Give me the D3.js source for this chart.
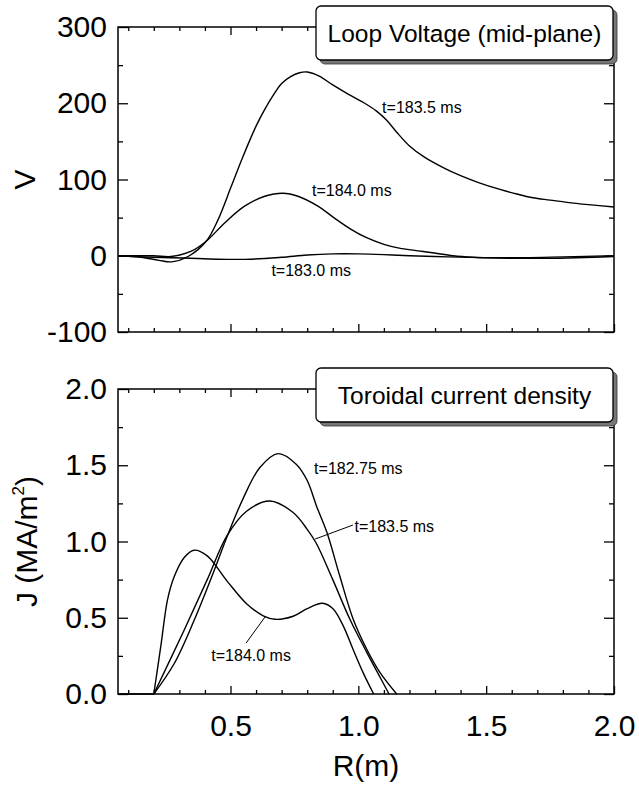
<!DOCTYPE html>
<html>
<head>
<meta charset="utf-8">
<script src="https://cdn.jsdelivr.net/npm/d3@7"></script>
<style>
  body { margin: 0; background: #fff; }
  svg text { font-family: "Liberation Sans", Arial, Helvetica, sans-serif; fill: #000; }
</style>
</head>
<body>
<svg id="chart" width="639" height="787"></svg>
<script>
// ---- data ----
const rMajor = [0.5, 1.0, 1.5, 2.0];
const rMinor = [0.1, 0.2, 0.3, 0.4, 0.6, 0.7, 0.8, 0.9, 1.1, 1.2, 1.3, 1.4, 1.6, 1.7, 1.8, 1.9];

const vMajor = [-100, 0, 100, 200, 300];
const vMinor = [-50, 50, 150, 250];
const jMajor = [0, 0.5, 1.0, 1.5, 2.0];
const jMinor = [0.25, 0.75, 1.25, 1.75];

// loop voltage, [R (m), V]
const v1835 = [[0.06,0],[0.15,-2],[0.22,-6],[0.27,-8],[0.334,-1],[0.405,19],[0.451,47],[0.503,91],[0.545,127],
  [0.60,170],[0.634,192],[0.67,212],[0.70,226],[0.735,235],[0.77,240],[0.80,241],[0.845,236],[0.90,224],
  [0.96,212],[1.02,201],[1.07,190],[1.11,178],[1.15,162],[1.20,144],[1.26,129],[1.33,116],[1.40,105],
  [1.47,96],[1.554,87],[1.62,81],[1.683,76],[1.75,73],[1.816,70],[1.9,67],[2.0,64]];
const v1840 = [[0.06,0],[0.2,0],[0.268,-1],[0.347,6],[0.405,19],[0.477,43],[0.555,65],[0.634,78],[0.705,82],
  [0.764,78],[0.842,65],[0.90,51],[0.97,35],[1.03,24],[1.10,15],[1.16,10],[1.22,7],[1.29,4],[1.37,0],
  [1.45,-2],[1.55,-3],[1.7,-3.5],[1.82,-3],[1.92,-2],[2.0,-1]];
const v1830 = [[0.06,0],[0.2,-2],[0.32,-3],[0.45,-4.5],[0.58,-4.5],[0.7,-2],[0.8,1],[0.9,2.5],[1.0,2.5],
  [1.1,1.5],[1.2,0],[1.35,-1.5],[1.5,-2.5],[1.65,-2.5],[1.8,-1.5],[2.0,0]];

// toroidal current density, [R (m), J (MA/m^2)]
const jStart = 0.2;
const j18275 = [[0.2,0],[0.28,0.20],[0.357,0.48],[0.434,0.80],[0.486,1.03],[0.551,1.288],[0.615,1.485],
  [0.686,1.576],[0.757,1.507],[0.80,1.40],[0.837,1.23],[0.877,1.06],[0.928,0.77],[0.98,0.49],[1.034,0.29],
  [1.085,0.14],[1.15,0]];
const j1835 = [[0.2,0],[0.319,0.42],[0.409,0.75],[0.486,1.037],[0.564,1.20],[0.654,1.266],[0.745,1.19],
  [0.80,1.08],[0.835,0.99],[0.90,0.75],[0.967,0.49],[1.034,0.27],[1.085,0.11],[1.12,0]];
const j1840 = [[0.2,0],[0.228,0.32],[0.254,0.62],[0.28,0.77],[0.319,0.895],[0.357,0.943],[0.409,0.906],
  [0.486,0.742],[0.564,0.59],[0.628,0.513],[0.674,0.49],[0.745,0.51],[0.80,0.56],[0.86,0.595],
  [0.90,0.56],[0.94,0.45],[0.98,0.29],[1.02,0.135],[1.06,0]];

// curve labels: [text, R, value, leader R0, value0, leader R1, value1]
const vLabels = [
  ['t=183.5 ms', 1.093, 195],
  ['t=184.0 ms', 0.819, 86],
  ['t=183.0 ms', 0.66, -19]
];
const jLabels = [
  ['t=182.75 ms', 0.827, 1.48],
  ['t=183.5 ms', 0.985, 1.10, 0.979, 1.108, 0.831, 1.016],
  ['t=184.0 ms', 0.425, 0.25, 0.561, 0.334, 0.635, 0.505]
];

// ---- layout ----
const svg = d3.select('#chart');
const left = 118, right = 614;
const top1 = 27, bot1 = 332, top2 = 389, bot2 = 694;

const x = d3.scaleLinear().domain([0.06, 2.0]).range([left, right]);
const yV = d3.scaleLinear().domain([-100, 300]).range([bot1, top1]);
const yJ = d3.scaleLinear().domain([0, 2.0]).range([bot2, top2]);

function ticks(g, axis) {
  g.call(axis);
  g.select('.domain').remove();
  g.selectAll('.tick line').attr('stroke', '#000').attr('stroke-width', 1.3);
  g.selectAll('.tick text').attr('font-size', 30).attr('font-family', '"Liberation Sans", Arial, sans-serif');
}

function panel(y, yTop, yBot, major, minor, fmt, showX) {
  // x ticks bottom and top
  const gb = svg.append('g').attr('transform', `translate(0,${yBot})`);
  ticks(gb.append('g'), d3.axisBottom(x).tickValues(rMinor).tickSize(-4).tickFormat(''));
  ticks(gb.append('g'), d3.axisBottom(x).tickValues(rMajor).tickSize(-8).tickPadding(21)
    .tickFormat(showX ? d3.format('.1f') : ''));
  const gt = svg.append('g').attr('transform', `translate(0,${yTop})`);
  ticks(gt.append('g'), d3.axisTop(x).tickValues(rMinor).tickSize(-4).tickFormat(''));
  ticks(gt.append('g'), d3.axisTop(x).tickValues(rMajor).tickSize(-8).tickFormat(''));
  // y ticks left and right
  const gl = svg.append('g').attr('transform', `translate(${left},0)`);
  ticks(gl.append('g'), d3.axisLeft(y).tickValues(minor).tickSize(-5).tickFormat(''));
  ticks(gl.append('g'), d3.axisLeft(y).tickValues(major).tickSize(-10).tickPadding(11).tickFormat(fmt));
  const gr = svg.append('g').attr('transform', `translate(${right},0)`);
  ticks(gr.append('g'), d3.axisRight(y).tickValues(minor).tickSize(-5).tickFormat(''));
  ticks(gr.append('g'), d3.axisRight(y).tickValues(major).tickSize(-10).tickFormat(''));
  svg.append('rect')
    .attr('x', left).attr('y', yTop).attr('width', right - left).attr('height', yBot - yTop)
    .attr('fill', 'none').attr('stroke', '#000').attr('stroke-width', 1.5);
}

panel(yV, top1, bot1, vMajor, vMinor, d => String(d), false);
panel(yJ, top2, bot2, jMajor, jMinor, d3.format('.1f'), true);

// ---- curves ----
const smooth = d3.curveCatmullRom.alpha(0.5);
const lineV = d3.line().x(d => x(d[0])).y(d => yV(d[1])).curve(smooth);
const lineJ = d3.line().x(d => x(d[0])).y(d => yJ(d[1])).curve(smooth);

[v1835, v1840, v1830].forEach(s => {
  svg.append('path').attr('d', lineV(s))
    .attr('fill', 'none').attr('stroke', '#000').attr('stroke-width', 1.4);
});

svg.append('path').attr('d', d3.line()([[x(0.06), yJ(0)], [x(jStart), yJ(0)]]))
  .attr('fill', 'none').attr('stroke', '#000').attr('stroke-width', 1.4);
[j18275, j1835, j1840].forEach(s => {
  svg.append('path').attr('d', lineJ(s))
    .attr('fill', 'none').attr('stroke', '#000').attr('stroke-width', 1.4);
});

// ---- curve labels ----
vLabels.forEach(l => {
  svg.append('text').attr('x', x(l[1])).attr('y', yV(l[2])).attr('dy', '0.35em')
    .attr('font-size', 16).text(l[0]);
});
jLabels.forEach(l => {
  svg.append('text').attr('x', x(l[1])).attr('y', yJ(l[2])).attr('dy', '0.35em')
    .attr('font-size', 16).text(l[0]);
  if (l.length > 3) {
    svg.append('line')
      .attr('x1', x(l[3])).attr('y1', yJ(l[4])).attr('x2', x(l[5])).attr('y2', yJ(l[6]))
      .attr('stroke', '#000').attr('stroke-width', 1);
  }
});

// ---- title boxes ----
function titleBox(label, yTop) {
  const w = 297, h = 54, bx = right - 1 - w, by = yTop - 21;
  svg.append('rect').attr('x', bx + 4).attr('y', by + 4).attr('width', w).attr('height', h)
    .attr('rx', 5).attr('fill', '#777').attr('stroke', '#333').attr('stroke-width', 0.8);
  svg.append('rect').attr('x', bx).attr('y', by).attr('width', w).attr('height', h)
    .attr('rx', 5).attr('fill', '#fff').attr('stroke', '#000').attr('stroke-width', 1.3);
  svg.append('text').attr('x', bx + w / 2).attr('y', by + h / 2 + 8.5)
    .attr('text-anchor', 'middle').attr('font-size', 24.5).text(label);
}
titleBox('Loop Voltage (mid-plane)', top1);
titleBox('Toroidal current density', top2);

// ---- axis titles ----
svg.append('text').attr('transform', `translate(35,${(top1 + bot1) / 2}) rotate(-90)`)
  .attr('text-anchor', 'middle').attr('font-size', 30).text('V');

const jt = svg.append('text').attr('transform', `translate(37,${(top2 + bot2) / 2}) rotate(-90)`)
  .attr('text-anchor', 'middle').attr('font-size', 30);
jt.append('tspan').text('J (MA/m');
jt.append('tspan').attr('font-size', 17).attr('dy', -13).text('2');
jt.append('tspan').attr('dy', 13).text(')');

svg.append('text').attr('x', (left + right) / 2).attr('y', 776)
  .attr('text-anchor', 'middle').attr('font-size', 30).text('R(m)');
</script>
</body>
</html>
